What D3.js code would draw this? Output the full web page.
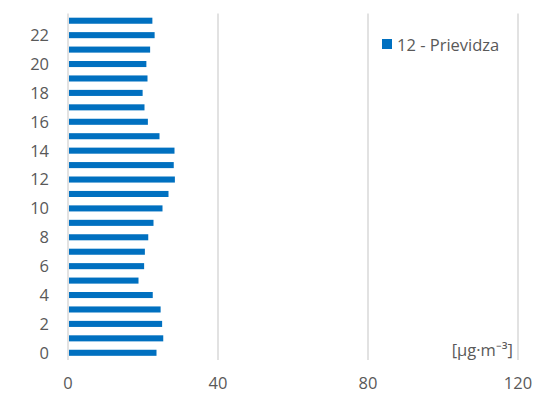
<!DOCTYPE html>
<html>
<head>
<meta charset="utf-8">
<script src="https://cdn.jsdelivr.net/npm/d3@7"></script>
<style>
  html, body { margin: 0; padding: 0; background: #fff; }
  text { font-family: "Open Sans", "Liberation Sans", sans-serif; fill: #595959; }
</style>
</head>
<body>
<svg id="chart" width="536" height="394"></svg>
<script>
// Hourly concentrations, hours 0–23
const hours = d3.range(0, 24);
const values = [23.6, 25.4, 25.1, 24.7, 22.6, 18.8, 20.3, 20.5, 21.4, 22.8, 25.2, 26.8,
                28.5, 28.2, 28.4, 24.4, 21.3, 20.4, 19.9, 21.2, 20.9, 21.9, 23.1, 22.5];
const xTicks = [0, 40, 80, 120];
const yTickLabels = [0, 2, 4, 6, 8, 10, 12, 14, 16, 18, 20, 22];
const seriesName = "12 - Prievidza";
const unitLabel = "[µg·m⁻³]";

const svg = d3.select("#chart");
const fontSize = 16.5;

const x = d3.scaleLinear().domain([0, 120]).range([68, 518]);
const y = d3.scaleBand().domain(hours).range([360, 13.5]).paddingInner(0.58).paddingOuter(0.29);

// vertical gridlines
svg.append("g")
  .selectAll("line")
  .data(xTicks.filter(d => d > 0))
  .join("line")
  .attr("x1", d => x(d)).attr("x2", d => x(d))
  .attr("y1", 13.5).attr("y2", 360)
  .attr("stroke", "#d9d9d9").attr("stroke-width", 1.5);

// bars
svg.append("g")
  .selectAll("rect")
  .data(hours)
  .join("rect")
  .attr("x", x(0) + 1)
  .attr("y", h => y(h))
  .attr("width", h => x(values[h]) - x(0) - 1)
  .attr("height", y.bandwidth())
  .attr("fill", "#0070c0");

// vertical axis line
svg.append("line")
  .attr("x1", x(0)).attr("x2", x(0))
  .attr("y1", 13.5).attr("y2", 360)
  .attr("stroke", "#d9d9d9").attr("stroke-width", 1.5);

// y labels
svg.append("g")
  .selectAll("text")
  .data(yTickLabels)
  .join("text")
  .attr("x", 49)
  .attr("y", d => y(d) + y.bandwidth() / 2)
  .attr("dy", "0.36em")
  .attr("text-anchor", "end")
  .attr("font-size", fontSize)
  .text(d => d);

// x labels
svg.append("g")
  .selectAll("text")
  .data(xTicks)
  .join("text")
  .attr("x", d => x(d))
  .attr("y", 389)
  .attr("text-anchor", "middle")
  .attr("font-size", fontSize)
  .text(d => d);

// legend
const lg = svg.append("g");
lg.append("rect").attr("x", 382).attr("y", 39).attr("width", 10).attr("height", 10).attr("fill", "#0070c0");
lg.append("text").attr("x", 397).attr("y", 50.5).attr("font-size", fontSize).text(seriesName);

// unit
svg.append("text")
  .attr("x", 513).attr("y", 356)
  .attr("text-anchor", "end")
  .attr("font-size", fontSize)
  .text(unitLabel);
</script>
</body>
</html>
